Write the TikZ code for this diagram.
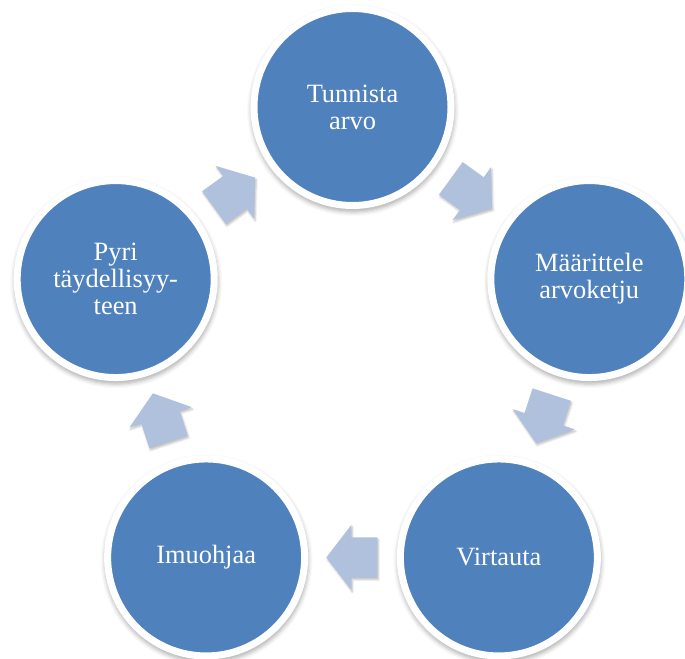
\documentclass[tikz,border=0pt]{standalone}
\usepackage{fontspec}
\setmainfont{Liberation Serif}
\usetikzlibrary{calc,shapes.arrows,shadows.blur}
\definecolor{CycleBlue}{HTML}{4F81BD}
\definecolor{CycleArrow}{HTML}{B0C1DE}

\begin{document}
\begin{tikzpicture}[
		x=1bp,y=1bp,
		stage/.style={circle,draw=white,line width=7bp,fill=CycleBlue,minimum size=197bp,inner sep=0pt,text=white,align=center,font=\fontsize{26.5}{27}\selectfont,
			blur shadow={shadow scale=1.035,shadow xshift=0.5bp,shadow yshift=-3bp,shadow blur radius=4bp,shadow opacity=30}},
		flow/.style={single arrow,fill=CycleArrow,minimum height=51bp,minimum width=65bp,inner sep=0pt,inner ysep=20bp,single arrow head extend=12.5bp,single arrow tip angle=105,sloped,allow upside down,pos=0.42,
			blur shadow={shadow xshift=1bp,shadow yshift=-2bp,shadow blur radius=2bp,shadow opacity=25}}
	]
	\useasboundingbox (0,0) rectangle (685,-659);
	\coordinate (mid) at (352.5,-356);
	% the five stages round the cycle
	\node[stage] (tunnista) at ($(mid)+(90:249)$) {Tunnista\\arvo};
	\node[stage] (maarittele) at ($(mid)+(18:249)$) {Määrittele\\arvoketju};
	\node[stage] (virtauta) at ($(mid)+(-54:249)$) {Virtauta};
	\node[stage] (imuohjaa) at ($(mid)+(-126:249)$) {Imuohjaa};
	\node[stage] (pyri) at ($(mid)+(162:249)$) {Pyri\\täydellisyy-\\teen};
	% block arrows between them
	\path (tunnista) -- (maarittele) node[flow] (a1) {};
	\path (maarittele) -- (virtauta) node[flow] (a2) {};
	\path (virtauta) -- (imuohjaa) node[flow] (a3) {};
	\path (imuohjaa) -- (pyri) node[flow] (a4) {};
	\path (pyri) -- (tunnista) node[flow] (a5) {};
\end{tikzpicture}
\end{document}
